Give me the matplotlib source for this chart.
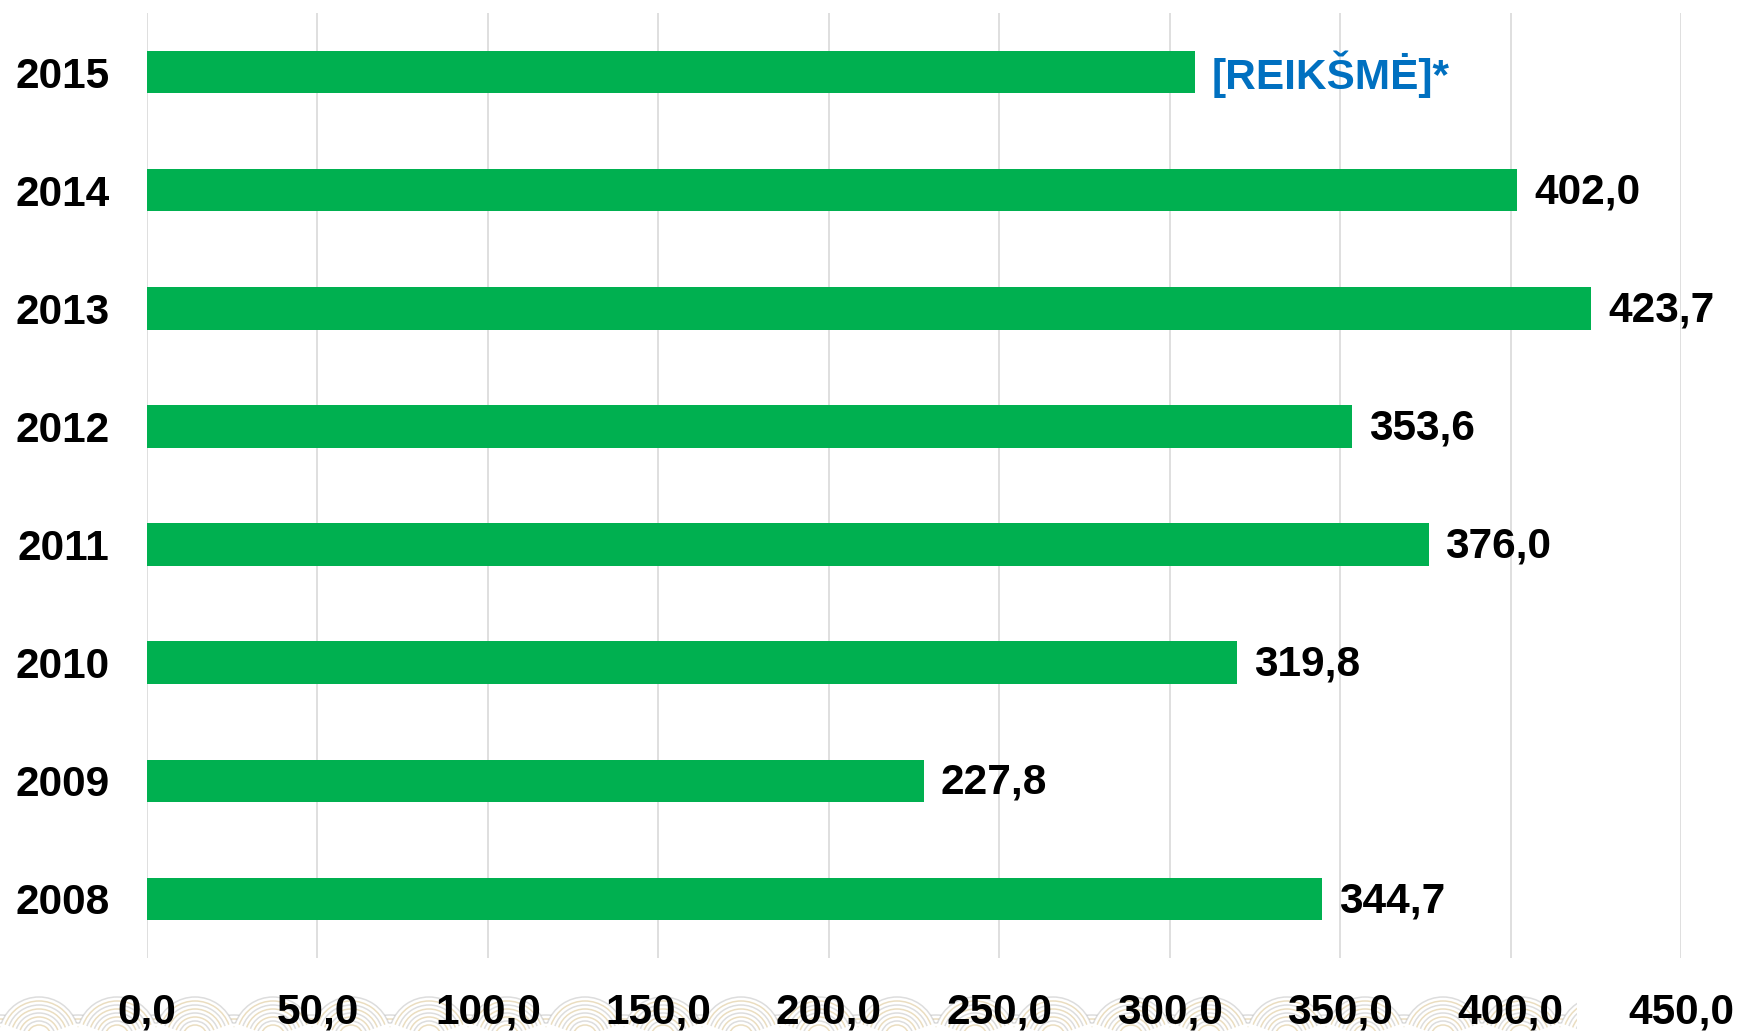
import matplotlib
matplotlib.use("Agg")
import matplotlib.pyplot as plt
import numpy as np
from matplotlib.patches import Arc, Wedge

# Data (top to bottom in the picture)
years = ["2015", "2014", "2013", "2012", "2011", "2010", "2009", "2008"]
values = [307.5, 402.0, 423.7, 353.6, 376.0, 319.8, 227.8, 344.7]
value_labels = ["[REIKŠMĖ]*", "402,0", "423,7", "353,6", "376,0", "319,8", "227,8", "344,7"]
label_colors = ["#0070C0", "black", "black", "black", "black", "black", "black", "black"]
x_ticks = [0, 50, 100, 150, 200, 250, 300, 350, 400, 450]

BAR_COLOR = "#00B050"
GRID_COLOR = "#D9D9D9"
FONT = "Liberation Sans"
FSIZE = 30.5

plt.rcParams["font.family"] = [FONT, "DejaVu Sans"]

W, H = 1740, 1031
fig = plt.figure(figsize=(W / 100, H / 100), dpi=100)

# Decorative wave strip at the bottom (fish-scale arcs)
ax_bg = fig.add_axes([0, 0, 1577 / W, 40 / H], zorder=0)
ax_bg.set_xlim(0, 1577)
ax_bg.set_ylim(0, 40)
ax_bg.axis("off")
period = 78
for y0, shift in [(-24, 0), (-6, period / 2)]:
    for cx in np.arange(-period + shift, 1577 + period, period):
        ax_bg.add_patch(Wedge((cx, y0), 40, 0, 180, facecolor="white", edgecolor="none"))
        for k, r in enumerate(np.arange(12, 41, 4)):
            col = "#D2B574" if k % 2 == 0 else "#B4B4B4"
            ax_bg.add_patch(Arc((cx, y0), 2 * r, 2 * r, theta1=20, theta2=160,
                                color=col, lw=1.1, alpha=0.45))

# Main chart
ax = fig.add_axes([147 / W, (H - 958) / H, (1681 - 147) / W, (958 - 13) / H], zorder=1)
ax.patch.set_alpha(0)
pos = np.arange(len(years))
ax.barh(pos, values, height=0.36, color=BAR_COLOR, zorder=2)

for p, v, txt, c in zip(pos, values, value_labels, label_colors):
    ax.annotate(txt, (v, p), xytext=(12, -1.5), textcoords="offset points",
                ha="left", va="center", fontsize=FSIZE, fontweight="bold", color=c)

ax.set_xlim(0, 450)
ax.set_ylim(len(years) - 0.5, -0.5)
ax.set_xticks(x_ticks)
ax.set_xticklabels([f"{t},0" for t in x_ticks], fontsize=FSIZE, fontweight="bold")
ax.set_yticks(pos)
ax.set_yticklabels(years, fontsize=FSIZE, fontweight="bold")
ax.tick_params(axis="x", length=0, pad=25)
ax.tick_params(axis="y", length=0, pad=27)
ax.grid(axis="x", color=GRID_COLOR, lw=1.2, zorder=0)
ax.set_axisbelow(True)
for s in ax.spines.values():
    s.set_visible(False)

fig.savefig("out.png", dpi=100)
